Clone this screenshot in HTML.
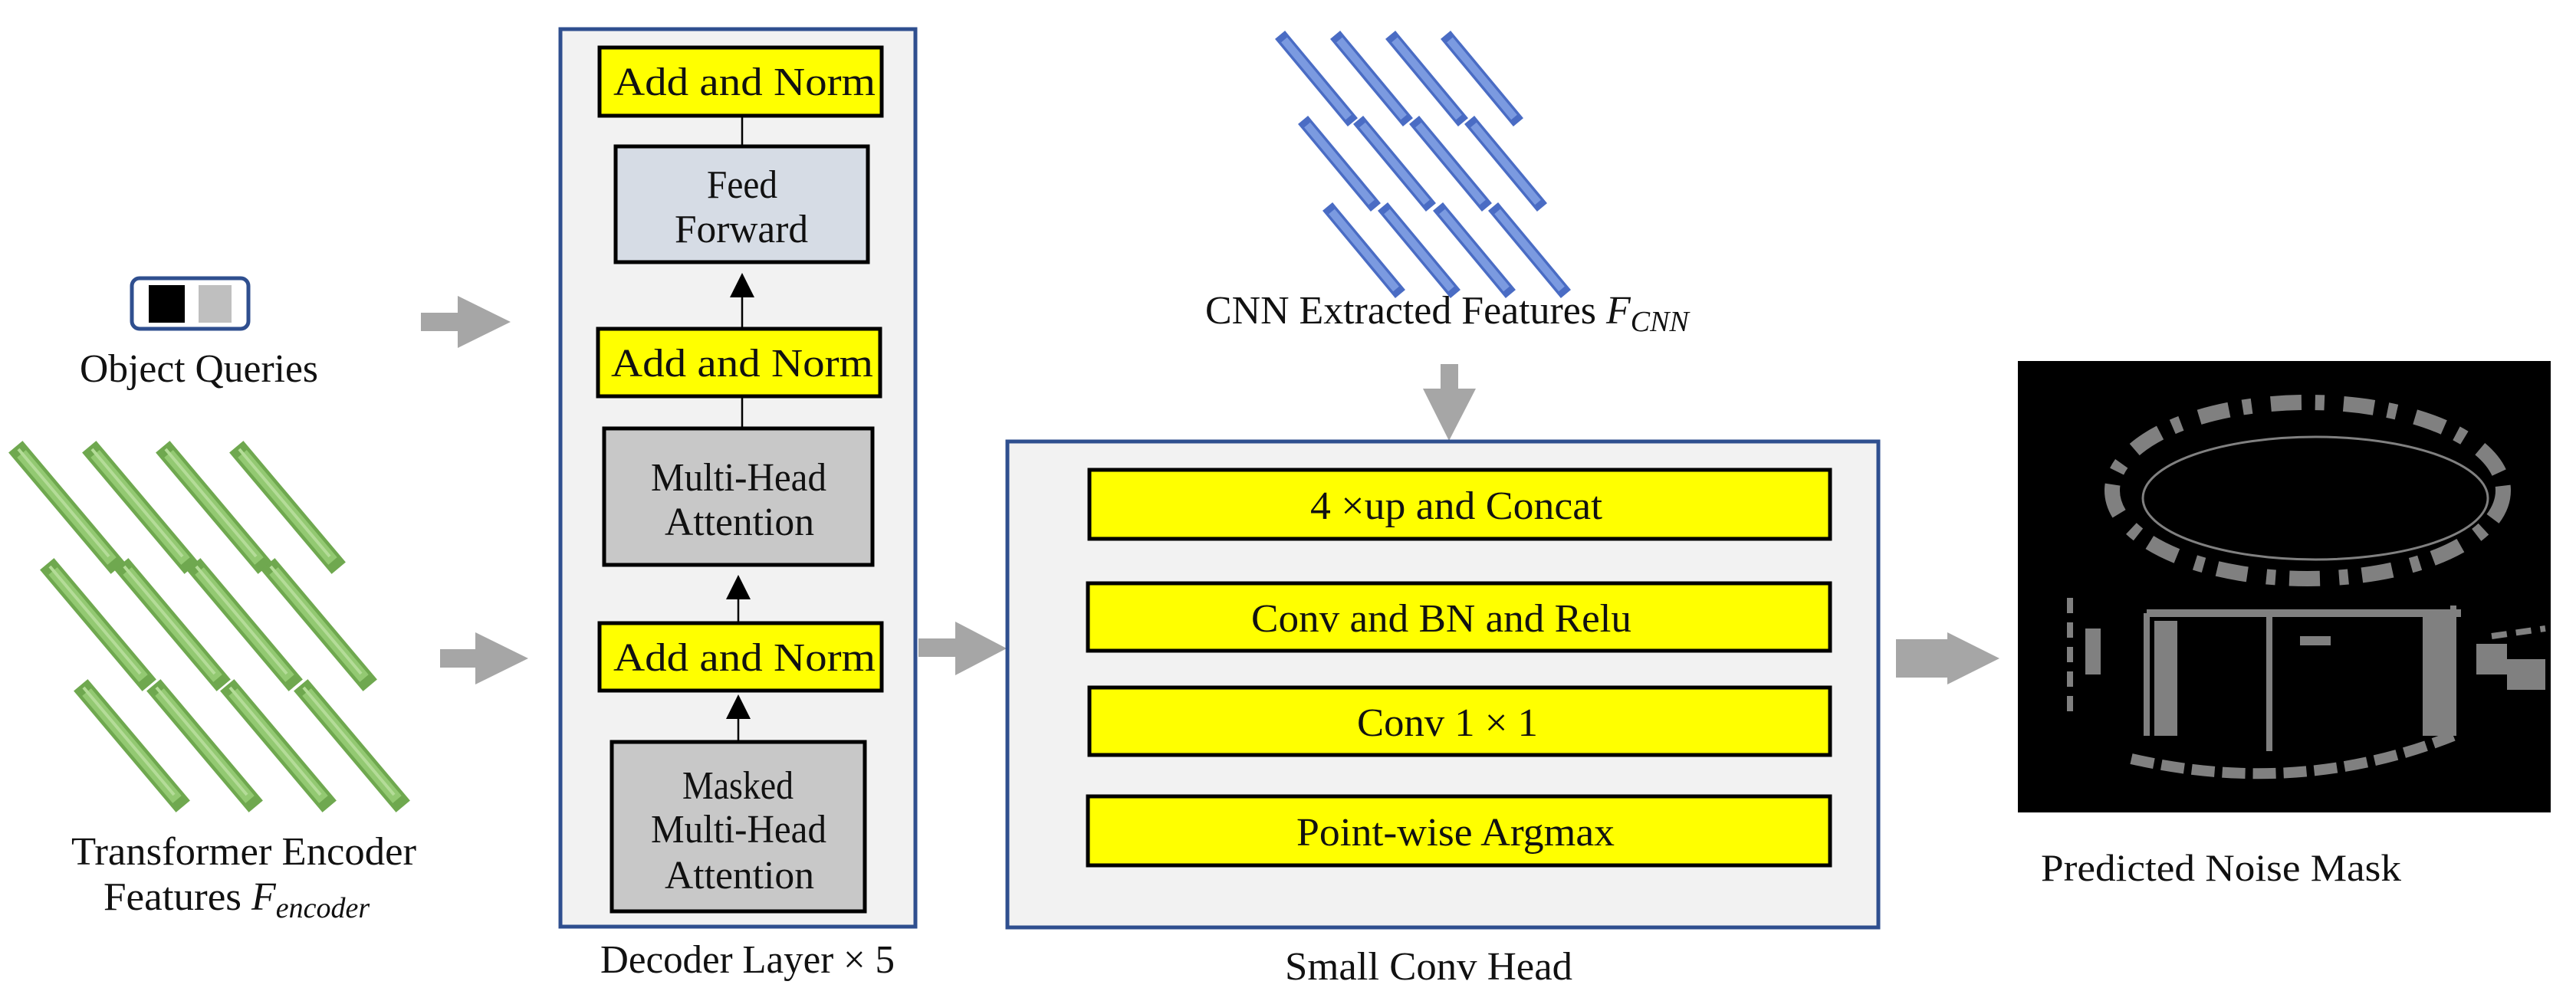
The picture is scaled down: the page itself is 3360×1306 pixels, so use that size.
<!DOCTYPE html>
<html><head><meta charset="utf-8"><style>
html,body{margin:0;padding:0;background:#fff}
svg{display:block}
text{font-family:"Liberation Serif",serif;fill:#111}
</style></head><body>
<svg width="3360" height="1306" viewBox="0 0 3360 1306" xmlns="http://www.w3.org/2000/svg">
<defs>
<g id="gbar"><line x1="0" y1="0" x2="118" y2="140" stroke="#6fa84f" stroke-width="24" stroke-linecap="square"/><line x1="0" y1="0" x2="118" y2="140" stroke="#93c972" stroke-width="15"/><line x1="-4" y1="-6" x2="114" y2="134" stroke="#b4dc98" stroke-width="4"/></g>
<g id="bbar"><line x1="0" y1="0" x2="84" y2="101" stroke="#4a6cc4" stroke-width="17" stroke-linecap="square"/><line x1="0" y1="0" x2="84" y2="101" stroke="#7b9ae0" stroke-width="10"/></g>
</defs>

<use href="#gbar" x="28" y="592"/><use href="#gbar" x="124" y="592"/><use href="#gbar" x="220" y="592"/><use href="#gbar" x="316" y="592"/>
<use href="#gbar" x="69" y="745"/><use href="#gbar" x="166" y="745"/><use href="#gbar" x="260" y="745"/><use href="#gbar" x="357" y="745"/>
<use href="#gbar" x="113" y="903"/><use href="#gbar" x="208" y="903"/><use href="#gbar" x="304" y="903"/><use href="#gbar" x="400" y="903"/>
<text x="93" y="1128" font-size="52" textLength="450" lengthAdjust="spacingAndGlyphs">Transformer Encoder</text>
<text x="135" y="1187" font-size="52"><tspan textLength="180" lengthAdjust="spacingAndGlyphs">Features</tspan> <tspan font-style="italic">F</tspan><tspan font-style="italic" font-size="38" dy="10">encoder</tspan></text>

<rect x="172" y="363" width="152" height="66" rx="10" fill="#fff" stroke="#2f4f8f" stroke-width="5"/>
<rect x="194" y="372" width="47" height="49" fill="#000"/>
<rect x="259" y="372" width="43" height="49" fill="#bfbfbf"/>
<text x="104" y="498" font-size="52" textLength="311" lengthAdjust="spacingAndGlyphs">Object Queries</text>

<g fill="#a6a6a6">
<polygon points="549,408 597,408 597,386 666,420 597,454 597,432 549,432"/>
<polygon points="574,847 620,847 620,825 689,859 620,893 620,871 574,871"/>
<polygon points="1198,833 1246,833 1246,811 1313,846 1246,881 1246,857 1198,857"/>
<polygon points="2473,834 2540,834 2540,825 2608,859 2540,893 2540,884 2473,884"/>
<polygon points="1879,475 1902,475 1902,507 1925,507 1890,575 1856,507 1879,507"/>
</g>

<rect x="731" y="38" width="463" height="1171" fill="#f2f2f2" stroke="#2f4f8f" stroke-width="5"/>
<g stroke="#000" stroke-width="5">
<rect x="782" y="62" width="368" height="89" fill="#ffff00"/>
<rect x="803" y="191" width="329" height="151" fill="#d6dce5"/>
<rect x="780" y="429" width="368" height="88" fill="#ffff00"/>
<rect x="788" y="559" width="350" height="178" fill="#c8c8c8"/>
<rect x="782" y="813" width="368" height="88" fill="#ffff00"/>
<rect x="798" y="968" width="330" height="221" fill="#c8c8c8"/>
</g>
<g stroke="#000" stroke-width="2.5">
<line x1="968" y1="151" x2="968" y2="191"/><line x1="968" y1="517" x2="968" y2="559"/>
<line x1="968" y1="428" x2="968" y2="380"/><line x1="963" y1="812" x2="963" y2="772"/><line x1="963" y1="968" x2="963" y2="930"/>
</g>
<g fill="#000">
<polygon points="968,356 952,388 984,388"/>
<polygon points="963,750 947,782 979,782"/>
<polygon points="963,906 947,938 979,938"/>
</g>
<g font-size="52">
<text x="800" y="124" textLength="342" lengthAdjust="spacingAndGlyphs">Add and Norm</text>
<text x="922" y="258" textLength="92" lengthAdjust="spacingAndGlyphs">Feed</text>
<text x="880" y="316" textLength="174" lengthAdjust="spacingAndGlyphs">Forward</text>
<text x="797" y="491" textLength="342" lengthAdjust="spacingAndGlyphs">Add and Norm</text>
<text x="849" y="640" textLength="229" lengthAdjust="spacingAndGlyphs">Multi-Head</text>
<text x="867" y="698" textLength="195" lengthAdjust="spacingAndGlyphs">Attention</text>
<text x="800" y="875" textLength="342" lengthAdjust="spacingAndGlyphs">Add and Norm</text>
<text x="890" y="1042" textLength="145" lengthAdjust="spacingAndGlyphs">Masked</text>
<text x="849" y="1099" textLength="229" lengthAdjust="spacingAndGlyphs">Multi-Head</text>
<text x="867" y="1159" textLength="195" lengthAdjust="spacingAndGlyphs">Attention</text>
<text x="783" y="1269" textLength="384" lengthAdjust="spacingAndGlyphs">Decoder Layer × 5</text>
</g>

<use href="#bbar" x="1675" y="52"/><use href="#bbar" x="1747" y="52"/><use href="#bbar" x="1819" y="52"/><use href="#bbar" x="1891" y="52"/>
<use href="#bbar" x="1705" y="163"/><use href="#bbar" x="1777" y="163"/><use href="#bbar" x="1850" y="163"/><use href="#bbar" x="1922" y="163"/>
<use href="#bbar" x="1737" y="276"/><use href="#bbar" x="1809" y="276"/><use href="#bbar" x="1881" y="276"/><use href="#bbar" x="1953" y="276"/>
<text x="1572" y="422" font-size="52"><tspan textLength="510" lengthAdjust="spacingAndGlyphs">CNN Extracted Features</tspan> <tspan font-style="italic">F</tspan><tspan font-style="italic" font-size="38" dy="10">CNN</tspan></text>

<rect x="1314" y="576" width="1136" height="634" fill="#f2f2f2" stroke="#2f4f8f" stroke-width="5"/>
<g stroke="#000" stroke-width="5" fill="#ffff00">
<rect x="1421" y="613" width="966" height="90"/>
<rect x="1419" y="761" width="968" height="88"/>
<rect x="1421" y="897" width="966" height="88"/>
<rect x="1419" y="1039" width="968" height="90"/>
</g>
<g font-size="52">
<text x="1709" y="677" textLength="381" lengthAdjust="spacingAndGlyphs">4 ×up and Concat</text>
<text x="1632" y="824" textLength="496" lengthAdjust="spacingAndGlyphs">Conv and BN and Relu</text>
<text x="1770" y="960" textLength="236" lengthAdjust="spacingAndGlyphs">Conv 1 × 1</text>
<text x="1691" y="1103" textLength="415" lengthAdjust="spacingAndGlyphs">Point-wise Argmax</text>
<text x="1676" y="1278" textLength="375" lengthAdjust="spacingAndGlyphs">Small Conv Head</text>
</g>

<rect x="2632" y="471" width="695" height="589" fill="#000"/>
<g fill="none" stroke="#808080">
<ellipse cx="3010" cy="640" rx="255" ry="115" stroke-width="20" stroke-dasharray="40 18 12 25"/>
<ellipse cx="3020" cy="650" rx="225" ry="80" stroke-width="3"/>
<path d="M2800 800 L3210 800" stroke-width="10"/>
<path d="M2800 800 L2800 960 M3200 790 L3200 960 M2960 800 L2960 980" stroke-width="8"/>
<path d="M2780 990 Q3000 1040 3200 960" stroke-width="14" stroke-dasharray="30 10"/>
<path d="M2700 780 L2700 940 M3250 830 L3320 820" stroke-width="8" stroke-dasharray="20 12"/>
</g>
<g fill="#808080">
<rect x="2810" y="810" width="30" height="150"/><rect x="3160" y="800" width="40" height="160"/>
<rect x="3000" y="830" width="40" height="12"/><rect x="2720" y="820" width="20" height="60"/>
<rect x="3230" y="840" width="40" height="40"/><rect x="3270" y="860" width="50" height="40"/>
</g>
<text x="2662" y="1149" font-size="50" textLength="470" lengthAdjust="spacingAndGlyphs">Predicted Noise Mask</text>
</svg>
</body></html>
